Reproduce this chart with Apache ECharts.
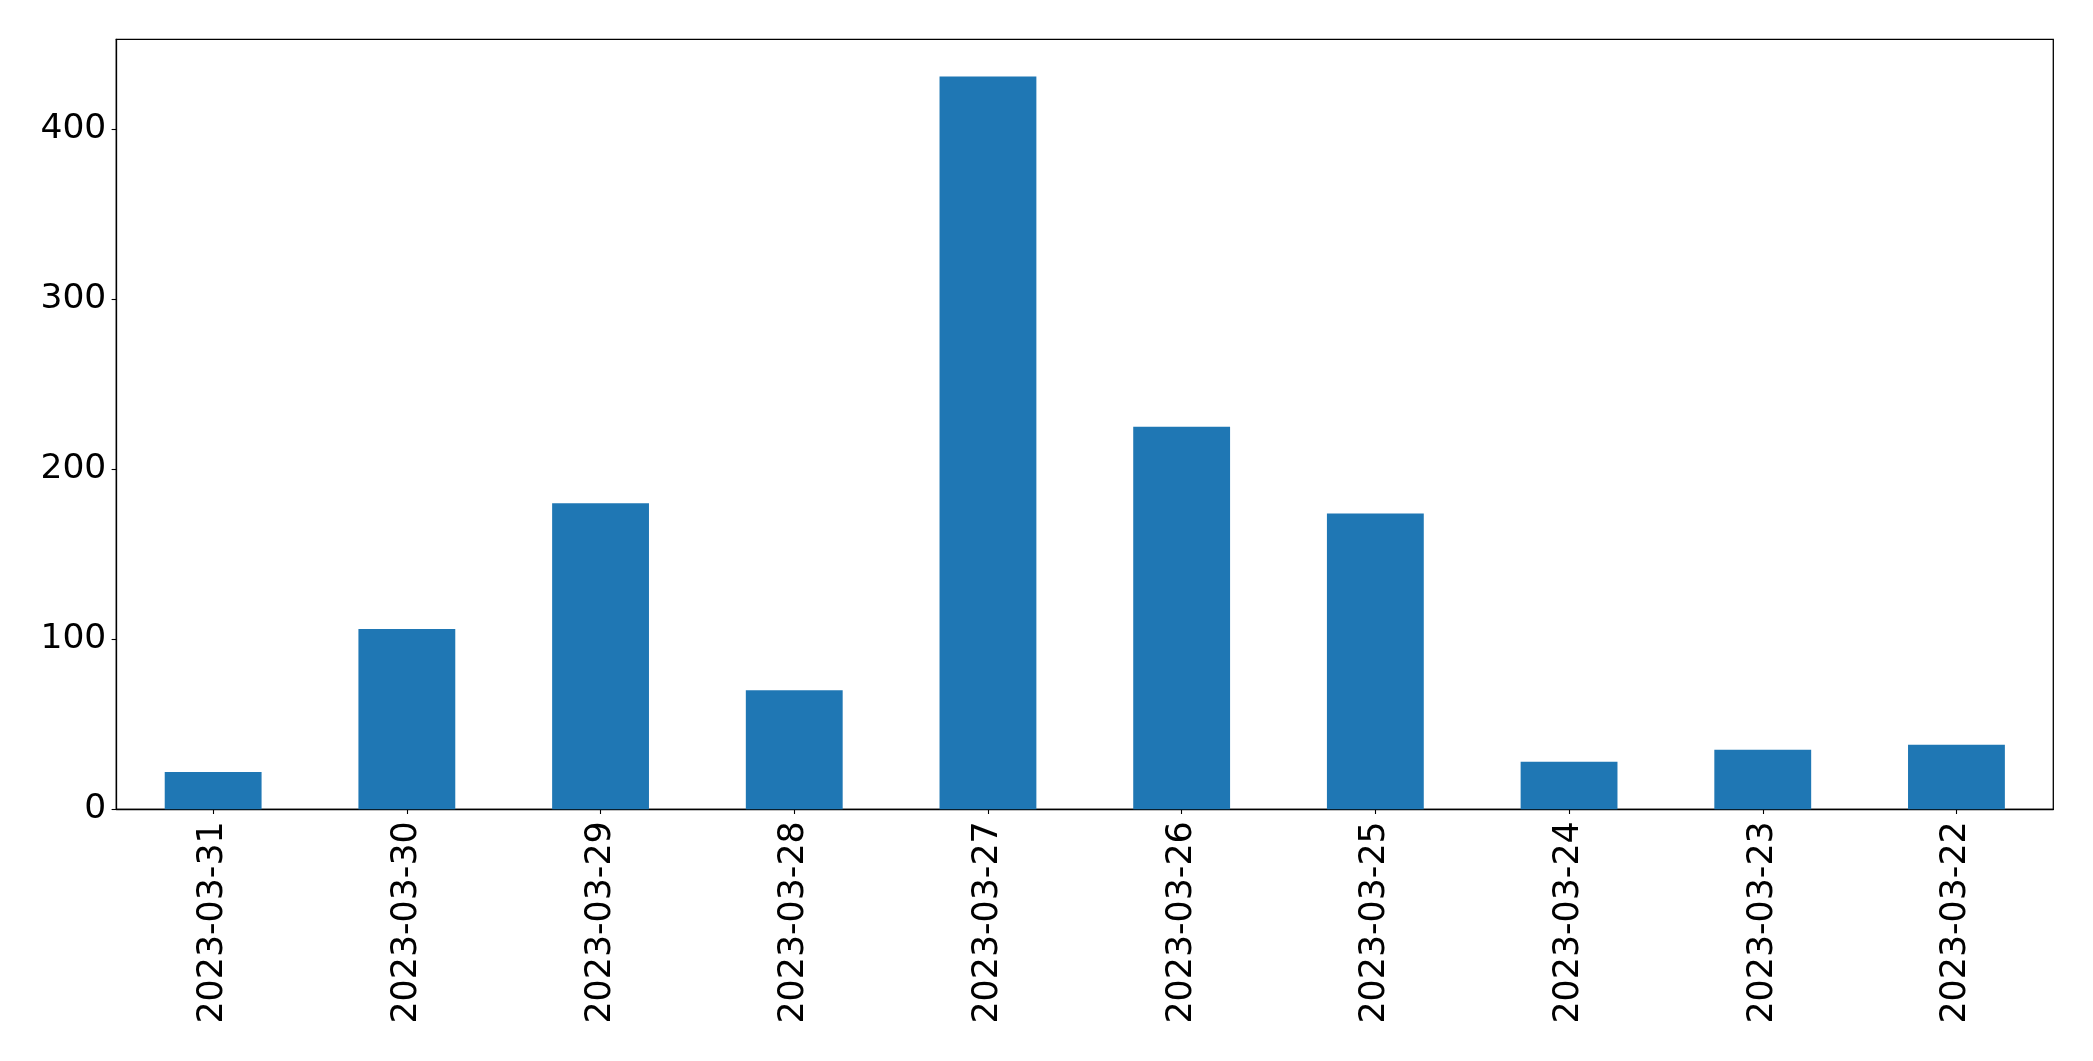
<!DOCTYPE html>
<html>
<head>
<meta charset="utf-8">
<script src="https://cdn.jsdelivr.net/npm/echarts@6/dist/echarts.min.js"></script>
<style>
html,body{margin:0;padding:0;background:#fff;}
#chart{width:2093px;height:1061px;}
</style>
</head>
<body>
<div id="chart"></div>
<script>
const categories = ["2023-03-31","2023-03-30","2023-03-29","2023-03-28","2023-03-27","2023-03-26","2023-03-25","2023-03-24","2023-03-23","2023-03-22"];
const values = [22, 106, 180, 70, 431, 225, 174, 28, 35, 38];
const yTicks = [0, 100, 200, 300, 400];

const chart = echarts.init(document.getElementById('chart'), null, {renderer: 'canvas'});
const font = 'DejaVu Sans';
chart.setOption({
  animation: false,
  backgroundColor: '#fff',
  grid: {
    left: 116.3, right: 39.7, top: 39.3, bottom: 251.7,
    show: true, borderColor: '#000', borderWidth: 1.3, backgroundColor: 'transparent'
  },
  xAxis: {
    type: 'category',
    data: categories,
    boundaryGap: true,
    axisLine: {show: true, lineStyle: {color: '#000', width: 1.3}},
    axisTick: {show: true, alignWithLabel: true, length: 4.7, lineStyle: {color: '#000', width: 1.1}},
    axisLabel: {rotate: 90, margin: 12, color: '#000', fontFamily: font, fontSize: 34.8, interval: 0},
    splitLine: {show: false}
  },
  yAxis: {
    type: 'value',
    min: 0, max: 452.9, interval: 100,
    axisLine: {show: true, lineStyle: {color: '#000', width: 1.3}},
    axisTick: {show: true, length: 4.7, lineStyle: {color: '#000', width: 1.1}, customValues: yTicks},
    axisLabel: {margin: 10, color: '#000', fontFamily: font, fontSize: 34.5, customValues: yTicks},
    splitLine: {show: false}
  },
  series: [{
    type: 'bar',
    data: values,
    barWidth: '50%',
    itemStyle: {color: '#1f77b4'}
  }]
});
</script>
</body>
</html>
